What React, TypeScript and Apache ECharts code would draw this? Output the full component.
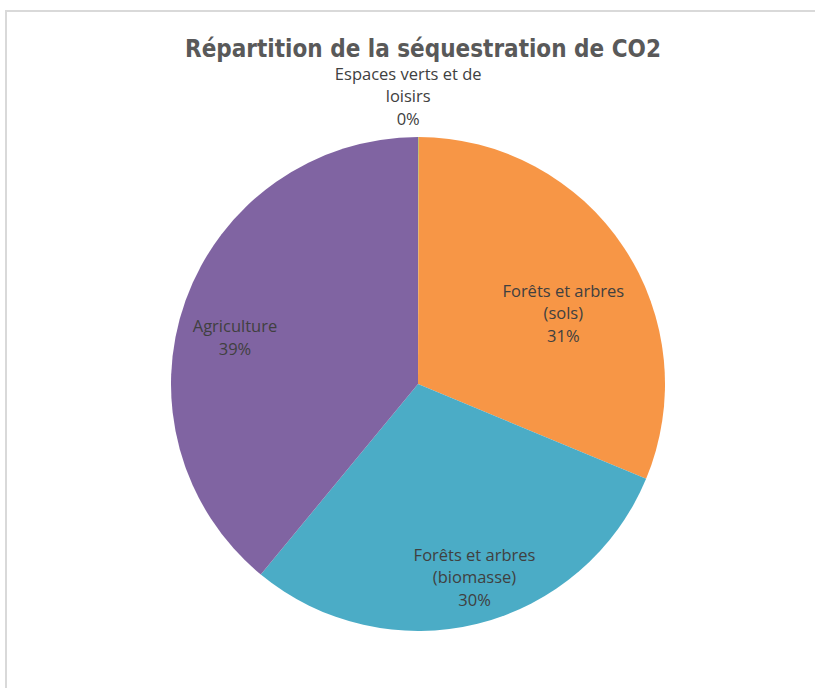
import React, { useEffect, useRef } from "react";
import * as echarts from "echarts";

const titleText = "Répartition de la séquestration de CO2";
const categories = [
  "Espaces verts et de\nloisirs",
  "Forêts et arbres\n(sols)",
  "Forêts et arbres\n(biomasse)",
  "Agriculture",
];
const values = [0.05, 31.2, 29.7, 39.0];
const colors = ["#9BBB59", "#F79646", "#4BACC6", "#8064A2"];
const labelShifts = [
  [-10, -162],
  [40, -1],
  [26, 70],
  [-64, -4],
];

export default function App() {
  const ref = useRef<HTMLDivElement>(null);
  useEffect(() => {
    document.body.style.margin = "0";
    const chart = echarts.init(ref.current!, null, { renderer: "svg" });
    chart.setOption({
      animation: false,
      backgroundColor: "#ffffff",
      graphic: [
        {
          type: "rect",
          silent: true,
          shape: { x: 6, y: 11, width: 840, height: 720 },
          style: { fill: "none", stroke: "#d9d9d9", lineWidth: 2 },
        },
      ],
      title: {
        text: titleText,
        left: 418,
        top: 31,
        textAlign: "center",
        textStyle: {
          fontFamily: "'Liberation Sans Narrow', 'DejaVu Sans Condensed', sans-serif",
          fontWeight: "bold",
          fontSize: 24,
          lineHeight: 26,
          color: "#595959",
        },
      },
      series: [
        {
          type: "pie",
          center: [418, 384],
          radius: [0, 247],
          startAngle: 90,
          clockwise: true,
          avoidLabelOverlap: false,
          percentPrecision: 0,
          data: categories.map((name, i) => ({
            name,
            value: values[i],
            itemStyle: { color: colors[i] },
          })),
          label: {
            show: true,
            position: "inside",
            formatter: "{b}\n{d}%",
            fontFamily: "'Open Sans', sans-serif",
            fontSize: 16.5,
            lineHeight: 22.5,
            color: "#404040",
            align: "center",
          },
          labelLine: { show: false },
          labelLayout: (params: any) => ({
            dx: labelShifts[params.dataIndex][0],
            dy: labelShifts[params.dataIndex][1],
          }),
          emphasis: { disabled: true },
        },
      ],
    });
    return () => chart.dispose();
  }, []);
  return <div ref={ref} style={{ width: 815, height: 688 }} />;
}
